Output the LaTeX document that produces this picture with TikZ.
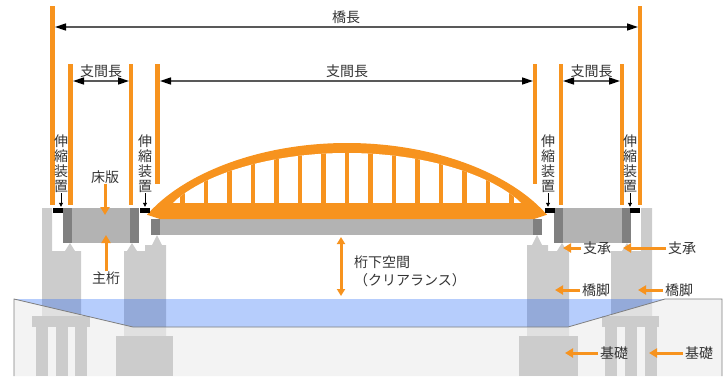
\documentclass[tikz,border=0pt]{standalone}
\usepackage{fontspec}
\setmainfont{Noto Sans CJK JP}
\usetikzlibrary{arrows.meta}
\definecolor{brorange}{HTML}{F7931E}
\definecolor{pier}{HTML}{CCCCCC}
\definecolor{deck}{HTML}{B3B3B3}
\definecolor{deckend}{HTML}{808080}
\definecolor{soil}{HTML}{ECECEC}
\definecolor{water}{HTML}{2266F5}
\definecolor{txt}{HTML}{333333}
\begin{document}
\begin{tikzpicture}[x=1pt,y=-1pt,
    lbl/.style={inner sep=0pt,text=txt,font=\fontsize{14}{15}\selectfont},
    vlbl/.style={lbl,align=center},
    dim/.style={draw=black!65,line width=1.6pt,
      arrows={Triangle[length=11pt,width=7pt,black]-Triangle[length=11pt,width=7pt,black]}},
    callout/.style={draw=brorange,line width=3pt,arrows={-Triangle[length=8pt,width=9pt]}},
    jarrow/.style={draw=black,line width=0.8pt,arrows={-Triangle[length=4pt,width=4pt]},shorten >=1pt},
    joint/.style={fill=black,inner sep=0pt,minimum width=10pt,minimum height=5pt},
  ]
\useasboundingbox (0,0) rectangle (726,376);

% abutments and piers
\fill[pier] (42,208) -- (52,208) -- (52,251) -- (81,251) -- (81,316) -- (42,316) -- cycle;
\fill[pier] (124,251) -- (145,251) -- (145,245) -- (166,245) -- (166,336) -- (124,336) -- cycle;
\fill[pier] (527,245) -- (548,245) -- (548,251) -- (569,251) -- (569,336) -- (527,336) -- cycle;
\fill[pier] (611,251) -- (641,251) -- (641,208) -- (652,208) -- (652,316) -- (611,316) -- cycle;

% ground
\fill[soil,fill opacity=0.65] (14,299) -- (133,327) -- (568,327) -- (665,299) -- (722,299)
  -- (722,376) -- (14,376) -- cycle;

% footings and piles
\fill[pier] (32,316) rectangle (90,327);
\fill[pier] (602,316) rectangle (659,327);
\foreach \x in {36,56,75,605,625,645}{
  \fill[pier] (\x,327) rectangle (\x+11.5,376);
}
\fill[pier] (116,336) rectangle (173,376);
\fill[pier] (519,336) rectangle (578,376);

% river
\fill[water,fill opacity=0.33] (14,299) -- (133,327) -- (568,327) -- (665,299) -- cycle;
\draw[black!50,line width=0.8pt] (14,376) -- (14,299) -- (133,327) -- (568,327) -- (665,299)
  -- (722,299) -- (722,376);

% bearings
\foreach \x/\y/\b in {70/243/251,132/243/251,157/235/245,537/235/245,562/243/251,627/243/251}{
  \fill[pier] (\x-5,\b) -- (\x,\y) -- (\x+5,\b) -- cycle;
}

% side spans
\foreach \a/\b in {63/139,554/631}{
  \fill[deck] (\a,208) rectangle (\b,243);
  \fill[deckend] (\a,208) rectangle (\a+9,243);
  \fill[deckend] (\b-9,208) rectangle (\b,243);
}

% main span with tied arch
\fill[deck] (151,219) rectangle (542,235);
\fill[deckend] (151,219) rectangle (160,235);
\fill[deckend] (533,219) rectangle (542,235);
\fill[brorange] plot[domain=-200:200,samples=80] ({347+\x},{246-103*(1-(\x/215)^2)^0.6})
  -- (534,219) -- (160,219) -- cycle;
\fill[white] plot[domain=-174:174,samples=80] ({347+\x},{221.8-68.8*(1-(\x/185)^2)^0.6}) -- cycle;
\begin{scope}
  \clip plot[domain=-174:174,samples=80] ({347+\x},{221.8-68.8*(1-(\x/185)^2)^0.6}) -- cycle;
  \foreach \k in {-7,...,7}{
    \fill[brorange] ({347+23.5*\k-2.3},140) rectangle ++(4.6,70);
  }
\end{scope}

% expansion joints
\node[joint](K1) at (57.5,210.5) {};
\node[joint](K2) at (144.5,210.5) {};
\node[joint](K3) at (549.5,210.5) {};
\node[joint](K4) at (635,210.5) {};

% dimension bars
\foreach \x/\t/\b in {52.5/6/205,70.5/64/205,131/64/205,157.5/64/184,
                      535/64/184,561/64/205,622/64/205,640/6/205}{
  \fill[brorange] (\x-2.3,\t) rectangle (\x+2.3,\b);
}

\coordinate(D1) at (55,27);
\coordinate(D2) at (638,27);
\coordinate(S1) at (73,81);
\coordinate(S2) at (129,81);
\coordinate(S3) at (160,81);
\coordinate(S4) at (533,81);
\coordinate(S5) at (563,81);
\coordinate(S6) at (620,81);
\draw[dim](D1) -- (D2);
\foreach \x/\y in {S1/S2,S3/S4,S5/S6}{
  \draw[dim](\x) -- (\y);
}
\node[lbl](Total) at (346,17) {橋長};
\node[lbl](Span1) at (101,71) {支間長};
\node[lbl](Span2) at (347,71) {支間長};
\node[lbl](Span3) at (591.5,71) {支間長};

% joint labels
\node[vlbl](J1) at (61,164) {伸\\縮\\装\\置};
\node[vlbl](J2) at (145,164) {伸\\縮\\装\\置};
\node[vlbl](J3) at (548,164) {伸\\縮\\装\\置};
\node[vlbl](J4) at (630,164) {伸\\縮\\装\\置};
\foreach \x/\y in {J1/K1,J2/K2,J3/K3,J4/K4}{
  \draw[jarrow](\x) -- (\x |- \y.north);
}

% part labels
\node[lbl](Slab) at (105,177) {床版};
\node[lbl](Girder) at (106,278) {主桁};
\coordinate(SlabT) at (106,215);
\coordinate(GirderT) at (106,235);
\draw[callout](Slab) -- (Slab |- SlabT);
\draw[callout](Girder) -- (Girder |- GirderT);

\node[lbl,anchor=west](Brg1) at (583,248) {支承};
\node[lbl,anchor=west](Brg2) at (668,248) {支承};
\node[lbl,anchor=west](Pier1) at (582,290) {橋脚};
\node[lbl,anchor=west](Pier2) at (665,290) {橋脚};
\node[lbl,anchor=west](Fnd1) at (600,353) {基礎};
\node[lbl,anchor=west](Fnd2) at (685,353) {基礎};
\coordinate(Brg1T) at (563,248);
\coordinate(Brg2T) at (623,248);
\coordinate(Pier1T) at (555,290);
\coordinate(Pier2T) at (638,290);
\coordinate(Fnd1T) at (565,353);
\coordinate(Fnd2T) at (649,353);
\foreach \x in {Brg1,Brg2,Pier1,Pier2,Fnd1,Fnd2}{
  \draw[callout,shorten <=2pt](\x) -- (\x T);
}

% clearance
\coordinate(C1) at (341,237);
\coordinate(C2) at (341,296);
\draw[callout,arrows={Triangle[length=7pt,width=8pt]-Triangle[length=7pt,width=8pt]}](C1) -- (C2);
\node[lbl,align=left,anchor=west,font=\fontsize{14}{18}\selectfont](Clear) at (354,271)
  {桁下空間\\（クリアランス）};
\end{tikzpicture}
\end{document}
